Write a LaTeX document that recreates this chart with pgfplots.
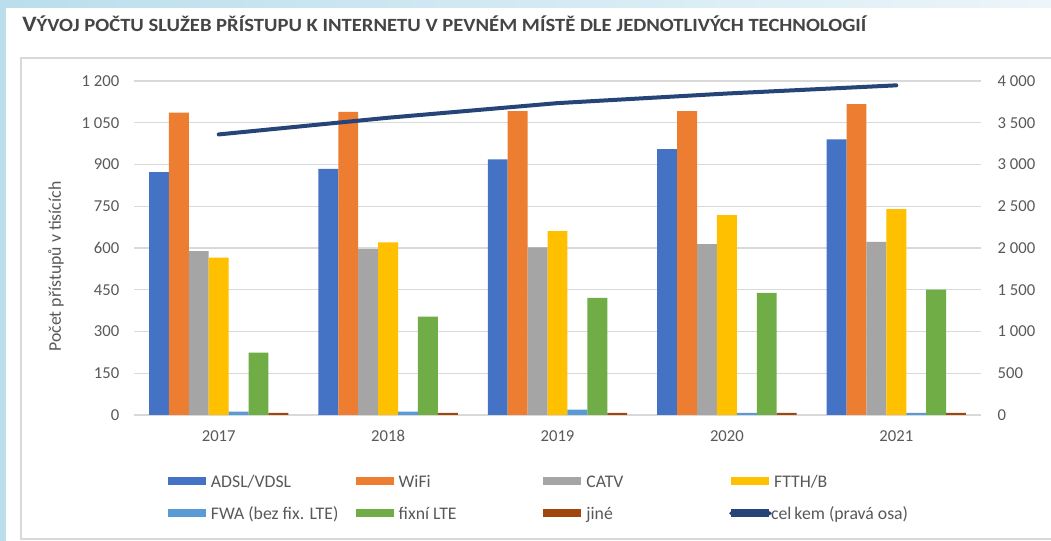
\documentclass[border=0pt]{standalone}
\usepackage{pgfplots}
\pgfplotsset{compat=1.18}
\usepackage{fontspec}
\setmainfont{Carlito}
\definecolor{adsl}{HTML}{4472C4}
\definecolor{wifi}{HTML}{ED7D31}
\definecolor{catv}{HTML}{A5A5A5}
\definecolor{ftth}{HTML}{FFC000}
\definecolor{fwa}{HTML}{5B9BD5}
\definecolor{lte}{HTML}{70AD47}
\definecolor{jine}{HTML}{9E480E}
\definecolor{celkem}{HTML}{264478}
\definecolor{txt}{HTML}{595959}
\definecolor{gridc}{HTML}{D9D9D9}
\definecolor{ttl}{HTML}{454545}
\definecolor{bgl}{RGB}{186,222,236}
\definecolor{bgr}{RGB}{236,245,250}
\pgfplotstableread{
x adsl wifi catv ftth fwa lte jine celkem
0 873 1086 589 565 12 224 8 3360
1 884 1089 596 620 12 353 8 3560
2 918 1092 602 661 19 421 8 3735
3 955 1092 614 718 8 439 8 3850
4 990 1117 622 740 8 450 8 3948
}\data
\begin{document}
\begin{tikzpicture}[x=0.75pt,y=0.75pt]
\shade[left color=bgl, right color=bgr] (0,0) rectangle (1051,541);
\fill[white] (6,0) rectangle (1051,533);
\draw[gridc, line width=1.2pt] (1051,2) -- (21,2) -- (21,483) -- (1051,483);
\node[anchor=base west, inner sep=0pt, text=ttl] at (22,509.3) {\resizebox{633pt}{\height}{\bfseries{\fontsize{16.5pt}{18pt}\selectfont V}{\fontsize{14pt}{16pt}\selectfont ÝVOJ POČTU SLUŽEB PŘÍSTUPU K INTERNETU V PEVNÉM MÍSTĚ DLE JEDNOTLIVÝCH TECHNOLOGIÍ}}};
\begin{axis}[
  at={(100.5pt,94.5pt)}, anchor=south west,
  scale only axis, width=635.25pt, height=250.5pt,
  xmin=-0.5, xmax=4.5, ymin=0, ymax=1200,
  axis lines=left, axis line style={draw=none},
  ybar=0pt, bar width=0.1175,
  xtick={0,1,2,3,4}, xticklabels={2017,2018,2019,2020,2021},
  ytick={0,150,300,450,600,750,900,1050,1200},
  yticklabels={0,150,300,450,600,750,900,1 050,1 200},
  major tick length=0pt, tick style={draw=none},
  xmajorgrids=false, ymajorgrids=true, grid style={draw=gridc, line width=1.1pt},
  tick label style={font=\fontsize{12.5pt}{15pt}\selectfont, text=txt},
  yticklabel style={xshift=-7.5pt},
  xticklabel style={yshift=-8pt},
  ylabel={Počet přístupů v tisících},
  ylabel style={font=\fontsize{13.3pt}{15pt}\selectfont, text=txt, at={(axis description cs:-0.0921,0.4446)}, anchor=center},
  legend columns=4,
  legend style={at={(axis description cs:0.0401,-0.179)}, anchor=north west, draw=none, fill=none,
    inner sep=0pt, outer sep=0pt, column sep=0pt, row sep=11.5pt,
    nodes={inner sep=0pt, outer sep=0pt, text height=9.5pt, text depth=3pt, font=\fontsize{13.3pt}{15pt}\selectfont, text=txt}},
  legend cell align=left,
  legend image code/.code={\fill[#1] (0pt,-1.5pt) rectangle (28.5pt,4.5pt);},
]
\addplot[fill=adsl, draw=none] table[x=x,y=adsl]{\data};
\addlegendentry{\makebox[112.3pt][l]{\hspace{3.75pt}ADSL/VDSL}}
\addplot[fill=wifi, draw=none] table[x=x,y=wifi]{\data};
\addlegendentry{\makebox[112.3pt][l]{\hspace{3.75pt}WiFi}}
\addplot[fill=catv, draw=none] table[x=x,y=catv]{\data};
\addlegendentry{\makebox[112.3pt][l]{\hspace{3.75pt}CATV}}
\addplot[fill=ftth, draw=none] table[x=x,y=ftth]{\data};
\addlegendentry{\makebox[112.3pt][l]{\hspace{3.75pt}FTTH/B}}
\addplot[fill=fwa, draw=none] table[x=x,y=fwa]{\data};
\addlegendentry{\makebox[112.3pt][l]{\hspace{3.75pt}FWA (bez fix. LTE)}}
\addplot[fill=lte, draw=none] table[x=x,y=lte]{\data};
\addlegendentry{\makebox[112.3pt][l]{\hspace{3.75pt}fixní LTE}}
\addplot[fill=jine, draw=none] table[x=x,y=jine]{\data};
\addlegendentry{\makebox[112.3pt][l]{\hspace{3.75pt}jiné}}
\addlegendimage{draw=none, fill=celkem, legend image code/.code={\path (0pt,-1.5pt) rectangle (28.5pt,4.5pt); \path[overlay, fill=celkem, draw=none, rounded corners=1.4pt] (-1.5pt,0pt) rectangle (30.5pt,2.8pt);}}
\addlegendentry{\makebox[112.3pt][l]{\hspace{1.5pt}cel\,kem (pravá osa)}}
\end{axis}
\begin{axis}[
  at={(100.5pt,94.5pt)}, anchor=south west,
  scale only axis, width=635.25pt, height=250.5pt,
  xmin=-0.5, xmax=4.5, ymin=0, ymax=4000,
  axis x line=none, axis y line*=right, y axis line style={draw=none},
  major tick length=0pt, tick style={draw=none},
  ytick={0,500,1000,1500,2000,2500,3000,3500,4000},
  yticklabels={0,500,1 000,1 500,2 000,2 500,3 000,3 500,4 000},
  tick label style={font=\fontsize{12.5pt}{15pt}\selectfont, text=txt},
  yticklabel style={anchor=west, xshift=9pt},
]
\addplot[celkem, line width=3pt, line cap=round] table[x=x,y=celkem]{\data};
\end{axis}
\pgfresetboundingbox
\path (0,0) rectangle (1051,541);
\end{tikzpicture}
\end{document}
